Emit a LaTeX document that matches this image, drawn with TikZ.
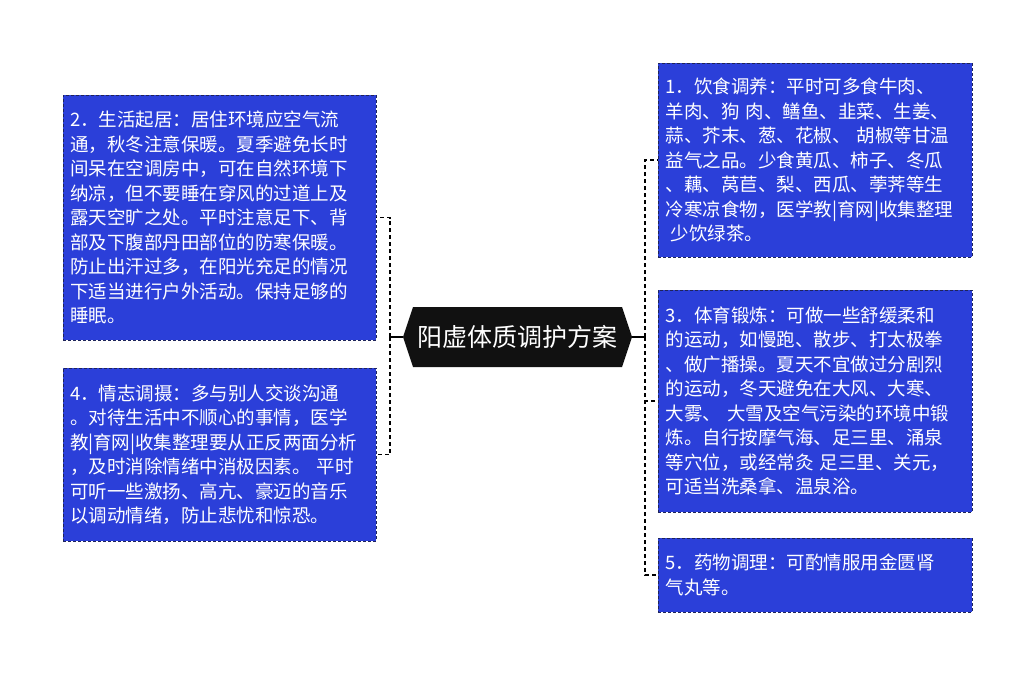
\documentclass[tikz,border=0pt]{standalone}
\usepackage{fontspec}
\setmainfont{Noto Sans CJK SC}
\usetikzlibrary{calc}
\definecolor{leafblue}{RGB}{43,63,217}
\definecolor{leafline}{RGB}{30,36,90}
\definecolor{rootblack}{RGB}{17,17,17}

\tikzset{
  leaf/.style={draw=leafline, dash pattern=on 3pt off 2pt, line width=0.8pt,
    fill=leafblue, text=white, minimum width=313pt, text width=299pt,
    inner xsep=7pt, align=left, font=\fontsize{18.5pt}{24.5pt}\selectfont},
  root/.style={text=white, minimum width=209pt, minimum height=60pt,
    inner sep=0pt, font=\fontsize{25pt}{30pt}\selectfont},
  link/.style={draw=black, line width=1.2pt, dash pattern=on 4pt off 3pt}
}

\begin{document}
\begin{tikzpicture}[x=1pt,y=-1pt]
\useasboundingbox (0,0) rectangle (1035,675);

% centre
\fill[rootblack] (413,307) -- (622,307) -- (632,337) -- (622,367) -- (413,367) -- (403,337) -- cycle;
\node[root] (root) at (517.5,337) {阳虚体质调护方案};
\coordinate (rootL) at ($(root.west)+(-10,0)$);
\coordinate (rootR) at ($(root.east)+(10,0)$);
\coordinate (lbus) at (390,337);
\coordinate (rbus) at (645,337);

% left side
\node[leaf, minimum height=245pt] (l2) at (219.5,217.5) {2．生活起居：居住环境应空气流\\通，秋冬注意保暖。夏季避免长时\\间呆在空调房中，可在自然环境下\\纳凉，但不要睡在穿风的过道上及\\露天空旷之处。平时注意足下、背\\部及下腹部丹田部位的防寒保暖。\\防止出汗过多，在阳光充足的情况\\下适当进行户外活动。保持足够的\\睡眠。};
\node[leaf, minimum height=173pt] (l4) at (219.5,454.5) {4．情志调摄：多与别人交谈沟通\\。对待生活中不顺心的事情，医学\\教|育网|收集整理要从正反两面分析\\，及时消除情绪中消极因素。 平时\\可听一些激扬、高亢、豪迈的音乐\\以调动情绪，防止悲忧和惊恐。};

% right side
\node[leaf, minimum width=314pt, minimum height=194pt] (r1) at (815,160) {1．饮食调养：平时可多食牛肉、\\羊肉、狗 肉、鳝鱼、韭菜、生姜、\\蒜、芥末、葱、花椒、 胡椒等甘温\\益气之品。少食黄瓜、柿子、冬瓜\\、藕、莴苣、梨、西瓜、荸荠等生\\冷寒凉食物，医学教|育网|收集整理\\\hspace*{5pt}少饮绿茶。};
\node[leaf, minimum width=314pt, minimum height=222pt] (r3) at (815,401) {3．体育锻炼：可做一些舒缓柔和\\的运动，如慢跑、散步、打太极拳\\、做广播操。夏天不宜做过分剧烈\\的运动，冬天避免在大风、大寒、\\大雾、 大雪及空气污染的环境中锻\\炼。自行按摩气海、足三里、涌泉\\等穴位，或经常灸 足三里、关元，\\可适当洗桑拿、温泉浴。};
\node[leaf, minimum width=314pt, minimum height=74pt] (r5) at (815,575) {5．药物调理：可酌情服用金匮肾\\气丸等。};

% connectors
\draw[line width=1.2pt] (rootL) -- (lbus);
\draw[line width=1.2pt] (rootR) -- (rbus);
\foreach \b in {l2,l4}
  \draw[link] (lbus) |- (\b.east);
\foreach \b in {r1,r3,r5}
  \draw[link] (rbus) |- (\b.west);
\end{tikzpicture}
\end{document}
